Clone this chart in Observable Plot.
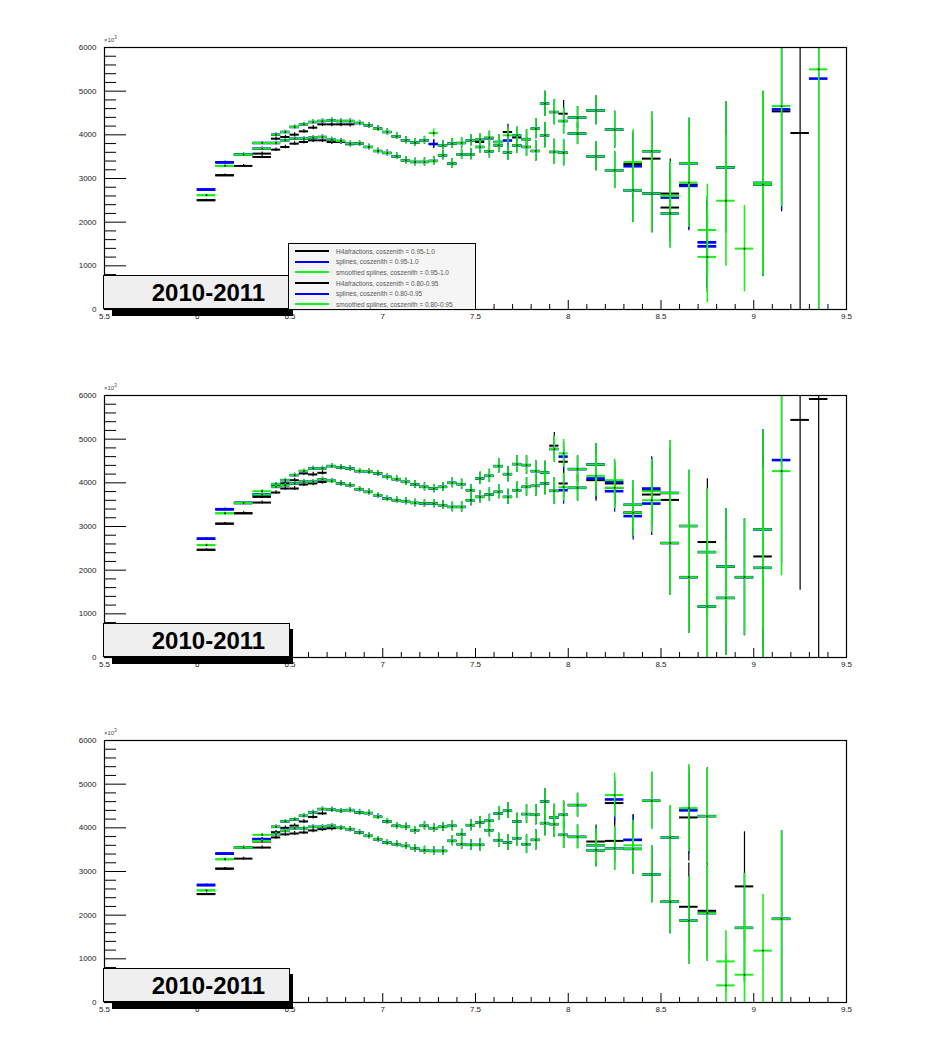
<!DOCTYPE html>
<html><head><meta charset="utf-8">
<script src="https://cdn.jsdelivr.net/npm/d3@7"></script>
<script src="https://cdn.jsdelivr.net/npm/@observablehq/plot@0.6"></script>
<style>
body{margin:0;background:#fff;}
#wrap{position:relative;width:949px;height:1044px;overflow:hidden;font-family:"Liberation Sans",Arial,sans-serif;}
.panel{position:absolute;left:0;width:949px;height:347px;}
.panel svg{position:absolute;left:0;top:0;}
.shadow{position:absolute;left:112px;top:281px;width:181px;height:35px;background:#000;}
.label{position:absolute;left:103px;top:275px;width:187px;height:34px;background:#efefef;border:1px solid #000;box-sizing:border-box;font:bold 24px "Liberation Sans",Arial,sans-serif;text-align:center;line-height:33px;padding-left:24px;color:#000;}
.legend{position:absolute;left:288px;top:243px;width:188px;height:67px;background:#f5f5f5;border:1px solid #000;box-sizing:border-box;padding-top:2px;}
.legend .row{height:10.6px;display:flex;align-items:center;}
.legend .ln{display:inline-block;width:34px;height:2px;margin-left:6px;margin-right:7px;}
.legend .tx{font-size:6.5px;color:#555;white-space:nowrap;}
.exp{position:absolute;left:104px;top:35px;font-size:6px;color:#444;}
.exp sup{font-size:4.5px;}
</style>
</head><body>
<div id="wrap"></div>
<script>
// Bin edges in log10(E)
const binEdges = [6.0, 6.1, 6.2, 6.3, 6.4, 6.45, 6.5, 6.55, 6.6, 6.65, 6.7, 6.75, 6.8, 6.85, 6.9, 6.95, 7.0, 7.05, 7.1, 7.15, 7.2, 7.25, 7.3, 7.35, 7.4, 7.45, 7.5, 7.55, 7.6, 7.65, 7.7, 7.75, 7.8, 7.85, 7.9, 7.95, 8.0, 8.1, 8.2, 8.3, 8.4, 8.5, 8.6, 8.7, 8.8, 8.9, 9.0, 9.1, 9.2, 9.3, 9.4];

const yMajorTicks = [0, 1000, 2000, 3000, 4000, 5000, 6000];
const yMinorTicks = [200, 400, 600, 800, 1200, 1400, 1600, 1800, 2200, 2400, 2600, 2800, 3200, 3400, 3600, 3800, 4200, 4400, 4600, 4800, 5200, 5400, 5600, 5800];
const xMajorTicks = [5.5, 6, 6.5, 7, 7.5, 8, 8.5, 9, 9.5];
const xMinorTicks = [5.6, 5.7, 5.8, 5.9, 6.1, 6.2, 6.3, 6.4, 6.6, 6.7, 6.8, 6.9, 7.1, 7.2, 7.3, 7.4, 7.6, 7.7, 7.8, 7.9, 8.1, 8.2, 8.3, 8.4, 8.6, 8.7, 8.8, 8.9, 9.1, 9.2, 9.3, 9.4];

const legendLabels = ["H4afractions, coszenith = 0.95-1.0", "splines, coszenith = 0.95-1.0", "smoothed splines, coszenith = 0.95-1.0", "H4afractions, coszenith = 0.80-0.95", "splines, coszenith = 0.80-0.95", "smoothed splines, coszenith = 0.80-0.95"];
const legendColors = ["#000000", "#0000ff", "#19f019", "#000000", "#0000ff", "#19f019"];
const periodLabel = "2010-2011";

// ---------- Panel 1 ----------
const p1GreenA = [2617, 3288, 3547, 3813, 4004, 4065, 4180, 4240, 4293, 4316,
  4331, 4316, 4316, 4270, 4217, 4141, 4065, 3966, 3874, 3821,
  3874, 4042, 3760, 3798, 3813, 3874, 3890, 3935, 3836, 3989,
  3989, 3900, 4141, 4713, 4522, 4316, 4393, 4560, 4118, 3379,
  3623, 2600, 3349, 1821, 3253, null, 2900, 4659, null, 5500];
const p1BlueA = [2747, 3371, 3547, 3813, 4004, 4065, 4180, 4240, 4293, 4316,
  4331, 4316, 4316, 4270, 4217, 4141, 4065, 3966, 3874, 3821,
  3874, 3790, 3760, 3798, 3813, 3874, 3890, 3920, 3836, 3870,
  3989, 3900, 4141, 4713, 4522, 4316, 4393, 4560, 4118, 3280,
  3623, 2564, 3349, 1539, 3253, null, 2900, 4583, null, 5288];
const p1BlackA = [2503, 3074, 3547, 3570, 3912, 3950, 4004, 4080, 4164, 4240,
  4240, 4240, 4240, 4270, 4217, 4141, 4065, 3966, 3874, 3821,
  3874, 3790, 3760, 3798, 3813, 3874, 3836, 3935, 3836, 4065,
  3940, 3900, 4141, 4713, 4522, 4484, 4393, 4560, 4118, 3330,
  3455, 2655, 3349, 1539, 3253, null, 2880, 4537, 4042, null];
const p1GreenB = [2617, 3288, 3547, 3684, 3813, 3874, 3912, 3912, 3935, 3950,
  3889, 3859, 3798, 3798, 3722, 3630, 3585, 3508, 3417, 3379,
  3379, 3402, 3531, 3341, 3554, 3554, 3722, 3623, 3760, 3600,
  3760, 3722, 3630, 3989, 3608, 3590, 4027, 3508, 3189, 2731,
  2655, 2198, 2907, 1204, 2491, 1394, 2860, null, null, null];
const p1BlueB = [2747, 3371, 3547, 3684, 3813, 3874, 3912, 3912, 3935, 3950,
  3889, 3859, 3798, 3798, 3722, 3630, 3585, 3508, 3417, 3379,
  3379, 3402, 3531, 3341, 3554, 3554, 3722, 3623, 3760, 3600,
  3760, 3722, 3630, 3989, 3608, 3590, 4027, 3508, 3189, 2731,
  2655, 2198, 2831, 1448, null, null, 2860, null, null, null];
const p1BlackB = [2503, 3074, 3288, 3493, 3661, 3722, 3798, 3836, 3874, 3874,
  3836, 3836, 3783, 3798, 3722, 3630, 3585, 3508, 3417, 3379,
  3379, 3402, 3531, 3341, 3554, 3554, 3722, 3623, 3760, 3600,
  3760, 3722, 3630, 3989, 3608, 3590, 4027, 3508, 3189, 2731,
  2655, 2335, 2860, 1448, null, null, 2860, null, null, null];
const p1Err = [20, 25, 30, 35, 40, 40, 45, 45, 50, 50,
  55, 55, 60, 60, 65, 65, 70, 75, 80, 85,
  90, 95, 100, 110, 115, 125, 140, 150, 160, 175,
  190, 210, 230, 285, 290, 300, 250, 330, 420, 740,
  900, 790, 1030, 1050, 1500, 990, 2100, 2300, 5000, 5600];

// ---------- Panel 2 ----------
const p2GreenA = [2575, 3303, 3540, 3808, 3969, 4061, 4176, 4268, 4330, 4330,
  4383, 4352, 4330, 4268, 4253, 4215, 4138, 4084, 4023, 3962,
  3908, 3869, 3908, 4000, 3969, 3831, 4100, 4160, 4383, 4199,
  4429, 4406, 4268, 4237, 4774, 4674, 4314, 4422, 4061, 3498,
  3808, 3768, 3011, 2414, 2084, 1839, 2935, 4268, null, null];
const p2BlueA = [2720, 3395, 3540, 3732, 3969, 4061, 4176, 4268, 4330, 4330,
  4383, 4352, 4330, 4268, 4253, 4215, 4138, 4084, 4023, 3962,
  3908, 3869, 3908, 4000, 3969, 3831, 4100, 4160, 4383, 4199,
  4429, 4406, 4268, 4237, 4774, 4600, 4314, 4422, 4023, 3498,
  3870, 3768, 3011, 2414, 2084, 1839, 2935, 4521, null, null];
const p2BlackA = [2467, 3065, 3303, 3678, 3940, 3990, 4060, 4215, 4192, 4230,
  4383, 4352, 4330, 4268, 4253, 4215, 4138, 4084, 4023, 3962,
  3908, 3869, 3908, 4000, 3969, 3831, 4100, 4160, 4383, 4199,
  4429, 4406, 4268, 4237, 4851, 4483, 4314, 4422, 3985, 3318,
  3830, 3609, null, 2644, 2084, 1839, 2935, null, 5441, 5920];
const p2GreenB = [2575, 3303, 3540, 3732, 3908, 3946, 3985, 4027, 4027, 4080,
  4046, 3985, 3946, 3854, 3793, 3716, 3640, 3602, 3580, 3540,
  3525, 3525, 3487, 3448, 3448, 3602, 3678, 3732, 3793, 3678,
  3831, 3908, 3931, 3985, 3816, 3900, 3885, 4160, 3885, 3318,
  3601, 2621, 1839, 1172, 1364, null, 2054, null, null, null];
const p2BlueB = [2720, 3395, 3540, 3732, 3908, 3946, 3985, 4027, 4027, 4080,
  4046, 3985, 3946, 3854, 3793, 3716, 3640, 3602, 3580, 3540,
  3525, 3525, 3487, 3448, 3448, 3602, 3678, 3732, 3793, 3678,
  3831, 3908, 3931, 3985, 3816, 3831, 3885, 4100, 3808, 3238,
  3525, 2621, 1839, 1172, 1364, null, 2054, null, null, null];
const p2BlackB = [2467, 3065, 3303, 3548, 3778, 3870, 3870, 3962, 3985, 4020,
  4046, 3985, 3946, 3854, 3793, 3716, 3640, 3602, 3580, 3540,
  3525, 3525, 3487, 3448, 3448, 3602, 3678, 3732, 3793, 3678,
  3831, 3908, 3931, 3985, 3816, 3985, 3885, 4061, 3885, 3318,
  3732, 2621, 1839, 1172, 1364, null, 2314, null, null, null];
const p2Err = [20, 25, 30, 35, 40, 40, 45, 45, 50, 50,
  55, 55, 60, 60, 65, 65, 70, 75, 80, 85,
  90, 95, 100, 110, 115, 125, 140, 150, 160, 175,
  190, 210, 230, 260, 300, 320, 300, 480, 480, 550,
  730, 1200, 1280, 1450, 1320, 1340, 2280, 2400, 3900, 6000];

// ---------- Panel 3 ----------
const p3GreenA = [2567, 3280, 3548, 3839, 4023, 4146, 4192, 4276, 4352, 4429,
  4414, 4390, 4406, 4352, 4337, 4253, 4146, 4046, 4023, 3946,
  4046, 3992, 4023, 4046, 3854, 4061, 4122, 4161, 4330, 4391,
  4146, 4315, 4299, 4605, 4238, 4299, 4521, 3600, 4751, 3600,
  4621, 3778, 4452, 4268, 941, 1710, 1188, 1916, null, null];
const p3BlueA = [2690, 3410, 3548, 3740, 4023, 4146, 4192, 4276, 4352, 4429,
  4414, 4390, 4406, 4352, 4337, 4253, 4146, 4046, 4023, 3946,
  4046, 3992, 4023, 4046, 3854, 4061, 4122, 4161, 4330, 4391,
  4146, 4315, 4299, 4605, 4238, 4299, 4521, 3600, 4650, 3724,
  4621, 3778, 4400, 4268, null, 1710, null, 1916, null, null];
const p3BlackA = [2483, 3065, 3548, 3686, 3900, 4000, 4050, 4146, 4250, 4330,
  4414, 4390, 4406, 4352, 4337, 4253, 4146, 4046, 4023, 3946,
  4046, 3992, 4023, 4046, 3854, 4061, 4122, 4161, 4330, 4391,
  4146, 4315, 4299, 4605, 4238, 4299, 4521, 3686, 4567, 3724,
  null, null, 4238, 4268, null, 2659, null, 1916, null, null];
const p3GreenB = [2567, 3280, 3548, 3700, 3855, 3931, 3990, 3990, 4023, 4023,
  4046, 4000, 3969, 3893, 3816, 3739, 3663, 3625, 3586, 3533,
  3487, 3471, 3471, 3701, 3625, 3610, 3610, 3946, 3716, 3663,
  3762, 3625, 3724, 4107, 4084, 3839, 3793, 3487, 3532, 3517,
  2935, 2307, 1877, 2046, 392, 636, null, null, null, null];
const p3BlueB = [2690, 3410, 3548, 3740, 3855, 3931, 3990, 3990, 4023, 4023,
  4046, 4000, 3969, 3893, 3816, 3739, 3663, 3625, 3586, 3533,
  3487, 3471, 3471, 3701, 3625, 3610, 3610, 3946, 3716, 3663,
  3762, 3625, 3724, 4107, 4084, 3839, 3793, 3487, 3532, 3517,
  2935, 2307, 1877, 2046, null, null, null, null, null, null];
const p3BlackB = [2483, 3065, 3295, 3548, 3780, 3850, 3870, 3893, 3940, 3969,
  3990, 4000, 3969, 3893, 3816, 3739, 3663, 3625, 3586, 3533,
  3487, 3471, 3471, 3701, 3625, 3610, 3610, 3946, 3716, 3663,
  3762, 3625, 3724, 4107, 4084, 3839, 3793, 3487, 3701, 3517,
  2935, 2307, 2192, 2100, null, null, null, null, null, null];
const p3Err = [20, 25, 30, 35, 40, 40, 45, 45, 50, 50,
  55, 55, 60, 60, 65, 65, 70, 75, 80, 85,
  90, 95, 100, 110, 115, 125, 140, 150, 160, 175,
  190, 210, 230, 290, 300, 310, 270, 380, 500, 575,
  650, 730, 1000, 1100, 700, 1250, 1290, 2020, 0, 0];

const panels = [
  {top: 0, legend: true, err: p1Err, series: {black: [p1BlackA, p1BlackB], blue: [p1BlueA, p1BlueB], green: [p1GreenA, p1GreenB]}},
  {top: 348, legend: false, err: p2Err, series: {black: [p2BlackA, p2BlackB], blue: [p2BlueA, p2BlueB], green: [p2GreenA, p2GreenB]}},
  {top: 693, legend: false, err: p3Err, series: {black: [p3BlackA, p3BlackB], blue: [p3BlueA, p3BlueB], green: [p3GreenA, p3GreenB]}}
];

const W = 949, H = 347, mL = 104, mR = 103, mT = 47, mB = 38;
const fw = W - mL - mR, fh = H - mT - mB;
const styles = {
  black: {color: "#000000", bar: 2, err: 1.2},
  blue: {color: "#0000ff", bar: 2.6, err: 1.3},
  green: {color: "#19f019", bar: 2, err: 1.6}
};

const wrap = document.getElementById("wrap");

for (const p of panels) {
  const marks = [
    Plot.tickY(yMinorTicks, {y: d => d, insetRight: fw - 12, stroke: "#000"}),
    Plot.tickY(yMajorTicks, {y: d => d, insetRight: fw - 22, stroke: "#000"}),
    Plot.tickX(xMinorTicks, {x: d => d, insetTop: fh - 5, stroke: "#000"}),
    Plot.tickX(xMajorTicks, {x: d => d, insetTop: fh - 9, stroke: "#000"})
  ];
  for (const m of ["black", "blue", "green"]) {
    const st = styles[m];
    for (const vals of p.series[m]) {
      const rows = vals.map((v, i) => ({lo: binEdges[i], hi: binEdges[i + 1], c: (binEdges[i] + binEdges[i + 1]) / 2, v, e: p.err[i]}))
        .filter(r => r.v != null);
      marks.push(Plot.ruleX(rows, {x: "c", y1: r => r.v - r.e, y2: r => r.v + r.e, stroke: st.color, strokeWidth: st.err, clip: true}));
      marks.push(Plot.ruleY(rows, {y: "v", x1: "lo", x2: "hi", stroke: st.color, strokeWidth: st.bar, clip: true}));
      if (m === "green") marks.push(Plot.dot(rows, {x: "c", y: "v", r: 0.9, fill: "#000", stroke: null, clip: true}));
    }
  }
  marks.push(Plot.frame({stroke: "#000", strokeWidth: 1.2}));

  const chart = Plot.plot({
    width: W, height: H,
    marginLeft: mL, marginRight: mR, marginTop: mT, marginBottom: mB,
    x: {domain: [5.5, 9.5], ticks: xMajorTicks, tickSize: 0, tickPadding: 4, label: null, tickFormat: d => String(d)},
    y: {domain: [0, 6000], ticks: yMajorTicks, tickSize: 0, tickPadding: 8, label: null, tickFormat: d => String(d)},
    style: {fontSize: "8px", fontFamily: "Liberation Sans, Arial, sans-serif", color: "#222", background: "transparent", overflow: "visible"},
    marks
  });

  const div = document.createElement("div");
  div.className = "panel";
  div.style.top = p.top + "px";
  div.appendChild(chart);

  const exp = document.createElement("div");
  exp.className = "exp";
  exp.innerHTML = "×10<sup>3</sup>";
  div.appendChild(exp);

  const sh = document.createElement("div");
  sh.className = "shadow";
  div.appendChild(sh);
  const lab = document.createElement("div");
  lab.className = "label";
  lab.textContent = periodLabel;
  div.appendChild(lab);

  if (p.legend) {
    const lg = document.createElement("div");
    lg.className = "legend";
    legendLabels.forEach((t, i) => {
      const row = document.createElement("div");
      row.className = "row";
      const ln = document.createElement("span");
      ln.className = "ln";
      ln.style.background = legendColors[i];
      const tx = document.createElement("span");
      tx.className = "tx";
      tx.textContent = t;
      row.appendChild(ln);
      row.appendChild(tx);
      lg.appendChild(row);
    });
    div.appendChild(lg);
  }
  wrap.appendChild(div);
}
</script>
</body></html>
